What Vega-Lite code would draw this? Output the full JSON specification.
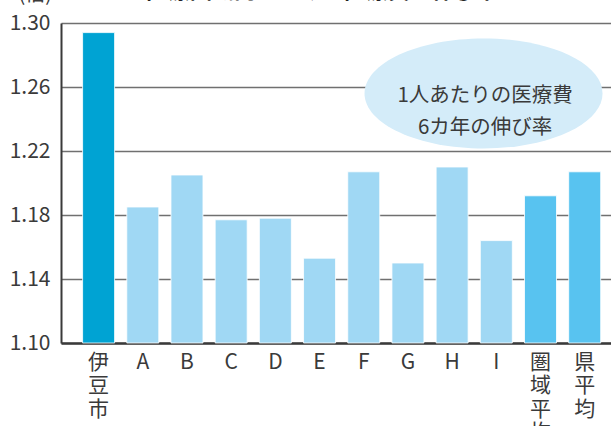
{
  "$schema": "https://vega.github.io/schema/vega-lite/v6.json",
  "width": 550,
  "height": 320,
  "autosize": {"type": "none"},
  "padding": {"left": 61, "top": 23, "right": 0, "bottom": 83},
  "background": "white",
  "config": {"view": {"stroke": null}, "font": "Noto Sans CJK JP"},
  "layer": [
    {
      "data": {
        "values": [
          {"name": "伊豆市", "group": "伊豆市", "value": 1.294},
          {"name": "A", "group": "他市町", "value": 1.185},
          {"name": "B", "group": "他市町", "value": 1.205},
          {"name": "C", "group": "他市町", "value": 1.177},
          {"name": "D", "group": "他市町", "value": 1.178},
          {"name": "E", "group": "他市町", "value": 1.153},
          {"name": "F", "group": "他市町", "value": 1.207},
          {"name": "G", "group": "他市町", "value": 1.150},
          {"name": "H", "group": "他市町", "value": 1.210},
          {"name": "I", "group": "他市町", "value": 1.164},
          {"name": "圏域平均", "group": "平均", "value": 1.192},
          {"name": "県平均", "group": "平均", "value": 1.207}
        ]
      },
      "mark": {"type": "bar", "stroke": "white", "strokeWidth": 0.8},
      "encoding": {
        "x": {
          "field": "name",
          "type": "nominal",
          "sort": null,
          "scale": {"paddingInner": 0.276, "paddingOuter": 0.361, "align": 0.677},
          "axis": {
            "title": null,
            "ticks": false,
            "domainColor": "#3a3a3a",
            "domainWidth": 2.5,
            "labelFontSize": 21,
            "labelColor": "#3a3a3a",
            "labelPadding": 8,
            "labelLineHeight": 23.5,
            "labelAngle": 0,
            "labelBaseline": "top",
            "labelExpr": "length(datum.label) > 1 ? split(datum.label, '') : datum.label"
          }
        },
        "y": {
          "field": "value",
          "type": "quantitative",
          "scale": {"domain": [1.1, 1.3], "nice": false, "zero": false},
          "axis": {
            "values": [1.1, 1.12, 1.14, 1.16, 1.18, 1.2, 1.22, 1.24, 1.26, 1.28, 1.3],
            "labelExpr": "round(datum.value * 100) % 4 == 2 ? format(datum.value, '.2f') : ''",
            "labelOverlap": false,
            "ticks": false,
            "grid": true,
            "gridColor": "#707070",
            "gridWidth": 1.5,
            "gridOpacity": 1,
            "domainColor": "#3a3a3a",
            "domainWidth": 2,
            "labelFontSize": 21,
            "labelColor": "#3a3a3a",
            "labelPadding": 11,
            "title": "(倍)",
            "titleAngle": 0,
            "titleAlign": "left",
            "titleBaseline": "bottom",
            "titleX": -43,
            "titleY": -19,
            "titleFontSize": 20,
            "titleFontWeight": "normal",
            "titleColor": "#3a3a3a"
          }
        },
        "y2": {"datum": 1.1},
        "color": {
          "field": "group",
          "type": "nominal",
          "scale": {"domain": ["伊豆市", "他市町", "平均"], "range": ["#00a3d3", "#a0d8f4", "#58c3f0"]},
          "legend": null
        }
      }
    },
    {
      "data": {"values": [{"heading": "医療圏域内における医療費の伸び率"}]},
      "mark": {
        "type": "text",
        "fontSize": 22,
        "fontWeight": "bold",
        "color": "#222222",
        "align": "left",
        "baseline": "alphabetic",
        "dy": -25
      },
      "encoding": {
        "x": {"datum": "A", "bandPosition": 0.6},
        "y": {"datum": 1.3},
        "text": {"field": "heading"}
      }
    },
    {
      "data": {"values": [{"note": "1人あたりの医療費\n6カ年の伸び率"}]},
      "mark": {
        "type": "point",
        "shape": "M -1 0 A 1 0.462 0 1 1 1 0 A 1 0.462 0 1 1 -1 0 Z",
        "size": 56644,
        "filled": true,
        "color": "#d4ecf9",
        "opacity": 1
      },
      "encoding": {
        "x": {"datum": "I", "bandPosition": 0.1},
        "y": {"datum": 1.256}
      }
    },
    {
      "data": {"values": [{"note": "1人あたりの医療費\n6カ年の伸び率"}]},
      "mark": {
        "type": "text",
        "lineBreak": "\n",
        "lineHeight": 32,
        "fontSize": 20.5,
        "color": "#3a3a3a",
        "align": "center",
        "baseline": "middle"
      },
      "encoding": {
        "x": {"datum": "I", "bandPosition": 0.15},
        "y": {"datum": 1.2545},
        "text": {"field": "note"}
      }
    }
  ]
}
